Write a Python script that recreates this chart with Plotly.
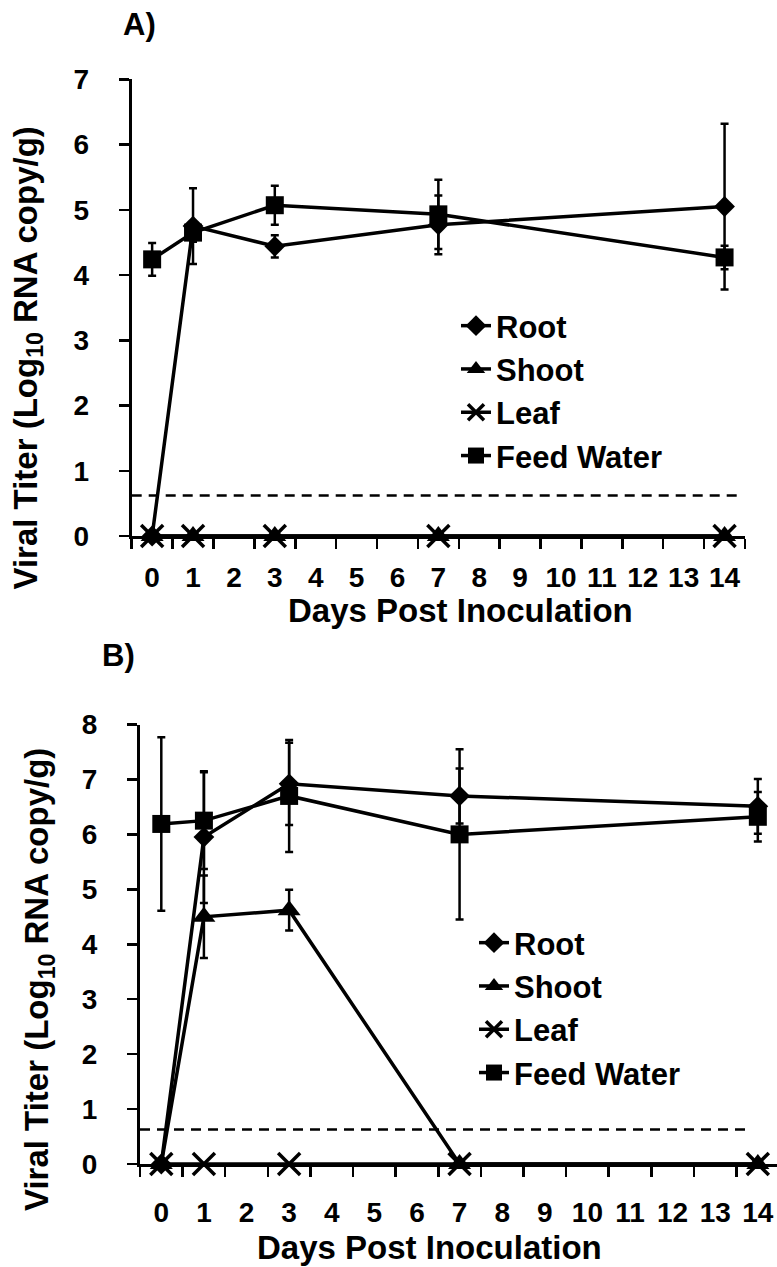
import plotly.graph_objects as go

# ---------------- data ----------------
days = [0, 1, 3, 7, 14]
tick_days = list(range(15))
series_names = ["Root", "Shoot", "Leaf", "Feed Water"]

# Panel A
a_root = [0, 4.75, 4.44, 4.77, 5.05]
a_root_err = [None, 0.58, 0.17, 0.45, 1.27]
a_shoot = [0, 0, 0, 0, 0]
a_leaf = [0, 0, 0, 0, 0]
a_feed = [4.24, 4.65, 5.07, 4.93, 4.27]
a_feed_err = [0.25, 0.14, 0.30, 0.53, 0.18]

# Panel B
b_root = [0, 5.95, 6.92, 6.70, 6.51]
b_root_err = [None, 1.20, 0.75, 0.50, 0.50]
b_shoot = [0, 4.50, 4.62, 0, 0]
b_shoot_err = [None, 0.75, 0.37, None, None]
b_leaf = [0, 0, 0, 0, 0]
b_feed = [6.19, 6.25, 6.70, 6.00, 6.32]
b_feed_err = [1.58, 0.88, 1.02, 1.55, 0.45]

lod_a = 0.62
lod_b = 0.63

y_ticks_a = list(range(8))
y_ticks_b = list(range(9))

# ---------------- styling ----------------
FONT = "Liberation Sans, Arial, sans-serif"
BLACK = "black"
W, H = 777, 1267

symbols = {"Root": "diamond", "Shoot": "triangle-up", "Leaf": "x-thin", "Feed Water": "square"}
sizes = {"Root": 16, "Shoot": 20, "Leaf": 22, "Feed Water": 18}


def trace(name, y, err, xa, ya, leg, rank):
    m = dict(symbol=symbols[name], size=sizes[name], color=BLACK)
    if name == "Leaf":
        m["line"] = dict(color=BLACK, width=3.5)
    t = go.Scatter(
        x=days, y=y, name=name, mode="lines+markers",
        line=dict(color=BLACK, width=3.5), marker=m,
        xaxis=xa, yaxis=ya, legend=leg, legendrank=rank,
        cliponaxis=False,
    )
    if err is not None:
        t.error_y = dict(type="data", array=err, symmetric=True,
                         color=BLACK, thickness=2.5, width=4)
    return t


fig = go.Figure()
# Panel A (leaf X on top of shoot triangle)
fig.add_trace(trace("Root", a_root, a_root_err, "x", "y", "legend", 1))
fig.add_trace(trace("Shoot", a_shoot, None, "x", "y", "legend", 2))
fig.add_trace(trace("Leaf", a_leaf, None, "x", "y", "legend", 3))
fig.add_trace(trace("Feed Water", a_feed, a_feed_err, "x", "y", "legend", 4))
# Panel B (shoot triangle on top of leaf X)
fig.add_trace(trace("Root", b_root, b_root_err, "x2", "y2", "legend2", 1))
fig.add_trace(trace("Leaf", b_leaf, None, "x2", "y2", "legend2", 3))
fig.add_trace(trace("Shoot", b_shoot, b_shoot_err, "x2", "y2", "legend2", 2))
fig.add_trace(trace("Feed Water", b_feed, b_feed_err, "x2", "y2", "legend2", 4))

# detection limit lines
fig.add_shape(type="line", xref="x", yref="y", x0=-0.5, x1=14.32, y0=lod_a, y1=lod_a,
              line=dict(color=BLACK, width=2.5, dash="10px,7px"))
fig.add_shape(type="line", xref="x2", yref="y2", x0=-0.5, x1=13.82, y0=lod_b, y1=lod_b,
              line=dict(color=BLACK, width=2.5, dash="10px,7px"))

tickfont = dict(family=FONT, size=28, color=BLACK, weight="bold")


def xaxis(domain, rng, anchor, standoff):
    return dict(
        domain=domain, range=rng, anchor=anchor, automargin=False,
        tickmode="array", tickvals=tick_days, ticktext=[str(d) for d in tick_days],
        ticks="", ticklabelstandoff=standoff, tickfont=tickfont,
        showline=True, linecolor=BLACK, linewidth=3,
        showgrid=False, zeroline=False,
        minor=dict(tickmode="array", tickvals=[d - 0.5 for d in tick_days] + [14.5],
                   ticks="outside", ticklen=10, tickwidth=2.5, tickcolor=BLACK,
                   showgrid=False),
    )


def yaxis(domain, rng, ticks, anchor):
    return dict(
        domain=domain, range=rng, anchor=anchor, automargin=False,
        tickmode="array", tickvals=ticks,
        ticks="outside", ticklen=10, tickwidth=2.5, tickcolor=BLACK,
        ticklabelstandoff=24, tickfont=tickfont,
        showline=True, linecolor=BLACK, linewidth=3,
        showgrid=False, zeroline=False,
    )


legfont = dict(family=FONT, size=31, color=BLACK, weight="bold")

fig.update_layout(
    template="none",
    width=W, height=H, autosize=False,
    margin=dict(l=0, r=0, t=0, b=0, pad=0),
    paper_bgcolor="white", plot_bgcolor="white",
    font=dict(family=FONT, color=BLACK),
    xaxis=xaxis([131.7 / W, 745 / W], [-0.5, 14.5], "y", 14),
    yaxis=yaxis([(H - 536) / H, (H - 79.3) / H], [0, 7], y_ticks_a, "x"),
    xaxis2=xaxis([140 / W, 1.0], [-0.5, 14.45], "y2", 21),
    yaxis2=yaxis([(H - 1164) / H, (H - 724.5) / H], [0, 8], y_ticks_b, "x2"),
    legend=dict(x=456 / W, y=(H - 299) / H, xanchor="left", yanchor="top",
                font=legfont, bgcolor="rgba(0,0,0,0)", borderwidth=0,
                tracegroupgap=0, itemwidth=30),
    legend2=dict(x=474 / W, y=(H - 916) / H, xanchor="left", yanchor="top",
                 font=legfont, bgcolor="rgba(0,0,0,0)", borderwidth=0,
                 tracegroupgap=0, itemwidth=30),
    showlegend=True,
)

bold = lambda s: "<b>" + s + "</b>"
ytitle = bold("Viral Titer (Log<sub>10</sub> RNA copy/g)")
xtitle = bold("Days Post Inoculation")
yfont = dict(family=FONT, size=33, color=BLACK)
xfont = dict(family=FONT, size=33, color=BLACK)
pfont = dict(family=FONT, size=31, color=BLACK)

annots = [
    dict(text=bold("A)"), x=139 / W, y=(H - 24) / H, font=pfont),
    dict(text=bold("B)"), x=118 / W, y=(H - 656) / H, font=pfont),
    dict(text=ytitle, x=27.5 / W, y=(H - 358) / H, textangle=-90, font=yfont),
    dict(text=ytitle, x=39 / W, y=(H - 980) / H, textangle=-90, font=yfont),
    dict(text=xtitle, x=460 / W, y=(H - 610) / H, font=xfont),
    dict(text=xtitle, x=429.5 / W, y=(H - 1247) / H, font=xfont),
]
for a in annots:
    fig.add_annotation(xref="paper", yref="paper", showarrow=False,
                       xanchor="center", yanchor="middle", **a)

fig.write_html("out.html",
               config={"displayModeBar": False, "staticPlot": True},
               post_script="document.body.style.margin='0px';document.body.style.padding='0px';")
